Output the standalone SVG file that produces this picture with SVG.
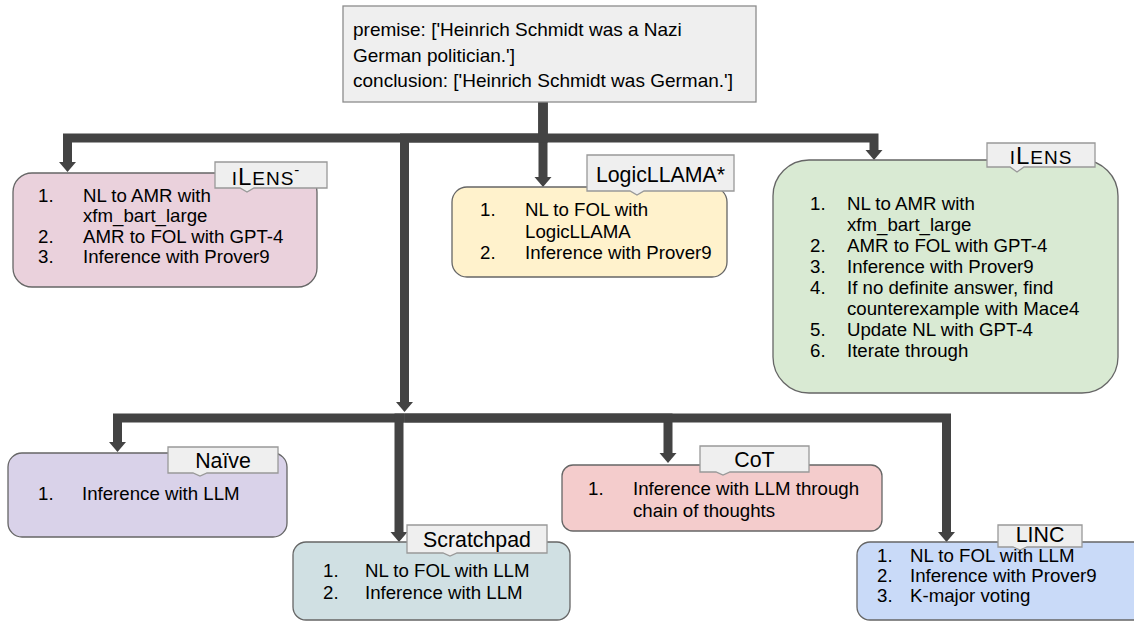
<svg xmlns="http://www.w3.org/2000/svg" width="1134" height="621" viewBox="0 0 1134 621">
<style>
.conn{fill:none;stroke:#434343;stroke-width:9;stroke-linejoin:miter;marker-end:url(#ah)}
.box{stroke:#666;stroke-width:1.3}
.tab{fill:#efefef;stroke:#999;stroke-width:1.3}
text{font-family:"Liberation Sans",Arial,sans-serif;fill:#000}
.li{font-size:18.67px}
.lb{font-size:21.33px;text-anchor:middle}
.top{font-size:19px}
.sc{font-size:19px}
</style>
<defs>
<marker id="ah" markerUnits="userSpaceOnUse" markerWidth="12" markerHeight="20" viewBox="0 -10 12 20" refX="0" refY="0" orient="auto">
<path d="M0,-8.5 L10,0 L0,8.5 z" fill="#434343"/>
</marker>
</defs>
<rect width="1134" height="621" fill="#fff"/>
<g id="connectors">
<path class="conn" d="M543,102 V138 H67.5 V162"/>
<path class="conn" d="M543,102 V138 H404.5 V402"/>
<path class="conn" d="M543,102 V177"/>
<path class="conn" d="M543,102 V138 H874 V150"/>
<path class="conn" d="M404.5,418 H117.5 V442"/>
<path class="conn" d="M404.5,418 H399 V532"/>
<path class="conn" d="M404.5,418 H668 V453"/>
<path class="conn" d="M404.5,418 H946.5 V532"/>
</g>
<g id="premise">
<rect x="343" y="6" width="413" height="96" fill="#efefef" stroke="#8c8c8c" stroke-width="1.3"/>
<text class="top" x="353" y="36">premise: ['Heinrich Schmidt was a Nazi</text>
<text class="top" x="353" y="62">German politician.']</text>
<text class="top" x="353" y="87">conclusion: ['Heinrich Schmidt was German.']</text>
</g>
<g id="ilens-minus">
<rect class="box" x="13" y="173" width="304" height="114" rx="19" fill="#ead1dc"/>
<path class="tab" d="M215,162 H327 V188 H254 L247,192 L240,188 H215 Z"/>
<text x="266" y="185" style="font-size:24px;letter-spacing:1px" text-anchor="middle"><tspan class="sc">I</tspan>L<tspan class="sc">ENS</tspan><tspan dy="-10" style="font-size:15px">-</tspan></text>
<text class="li" x="38" y="201.5">1.</text><text class="li" x="83" y="201.5">NL to AMR with</text>
<text class="li" x="83" y="222">xfm_bart_large</text>
<text class="li" x="38" y="242.5">2.</text><text class="li" x="83" y="242.5">AMR to FOL with GPT-4</text>
<text class="li" x="38" y="263">3.</text><text class="li" x="83" y="263">Inference with Prover9</text>
</g>
<g id="logicllama">
<rect class="box" x="452" y="187" width="275" height="90" rx="15" fill="#fff2cc"/>
<path class="tab" d="M587,155 H734 V191 H644 L637,195 L630,191 H587 Z"/>
<text class="lb" x="660.5" y="182">LogicLLAMA*</text>
<text class="li" x="480" y="216">1.</text><text class="li" x="525" y="216">NL to FOL with</text>
<text class="li" x="525" y="237.5">LogicLLAMA</text>
<text class="li" x="480" y="259">2.</text><text class="li" x="525" y="259">Inference with Prover9</text>
</g>
<g id="ilens">
<rect class="box" x="773" y="160" width="345" height="233" rx="36" fill="#d9ead3"/>
<path class="tab" d="M987,143 H1095 V167 H1024 L1017,172 L1010,167 H987 Z"/>
<text x="1041" y="164" style="font-size:24px;letter-spacing:1px" text-anchor="middle"><tspan class="sc">I</tspan>L<tspan class="sc">ENS</tspan></text>
<text class="li" x="810" y="210">1.</text><text class="li" x="847" y="210">NL to AMR with</text>
<text class="li" x="847" y="231">xfm_bart_large</text>
<text class="li" x="810" y="252">2.</text><text class="li" x="847" y="252">AMR to FOL with GPT-4</text>
<text class="li" x="810" y="273">3.</text><text class="li" x="847" y="273">Inference with Prover9</text>
<text class="li" x="810" y="294">4.</text><text class="li" x="847" y="294">If no definite answer, find</text>
<text class="li" x="847" y="315">counterexample with Mace4</text>
<text class="li" x="810" y="336">5.</text><text class="li" x="847" y="336">Update NL with GPT-4</text>
<text class="li" x="810" y="357">6.</text><text class="li" x="847" y="357">Iterate through</text>
</g>
<g id="naive">
<rect class="box" x="8" y="453" width="279" height="84" rx="14" fill="#d9d2e9"/>
<path class="tab" d="M168,447 H278 V473 H207 L200,476 L193,473 H168 Z"/>
<text class="lb" x="223" y="468">Naïve</text>
<text class="li" x="38" y="500">1.</text><text class="li" x="82" y="500">Inference with LLM</text>
</g>
<g id="scratchpad">
<rect class="box" x="293" y="542" width="277" height="78" rx="13" fill="#d0e0e3"/>
<path class="tab" d="M407,525 H547 V553 H457 L450,556 L443,553 H407 Z"/>
<text class="lb" x="477" y="547">Scratchpad</text>
<text class="li" x="323" y="577">1.</text><text class="li" x="365" y="577">NL to FOL with LLM</text>
<text class="li" x="323" y="599">2.</text><text class="li" x="365" y="599">Inference with LLM</text>
</g>
<g id="cot">
<rect class="box" x="562" y="465" width="320" height="66" rx="11" fill="#f4cccc"/>
<path class="tab" d="M700,446 H809 V472 H730 L723,475 L716,472 H700 Z"/>
<text class="lb" x="754.5" y="467">CoT</text>
<text class="li" x="588" y="495">1.</text><text class="li" x="633" y="495">Inference with LLM through</text>
<text class="li" x="633" y="517">chain of thoughts</text>
</g>
<g id="linc">
<rect class="box" x="857" y="542" width="300" height="78" rx="13" fill="#c9daf8"/>
<path class="tab" d="M998,525 H1082 V547 H1027 L1020,550 L1013,547 H998 Z"/>
<text class="lb" x="1040" y="542">LINC</text>
<text class="li" x="877" y="562">1.</text><text class="li" x="910" y="562">NL to FOL with LLM</text>
<text class="li" x="877" y="582">2.</text><text class="li" x="910" y="582">Inference with Prover9</text>
<text class="li" x="877" y="602">3.</text><text class="li" x="910" y="602">K-major voting</text>
</g>
</svg>
